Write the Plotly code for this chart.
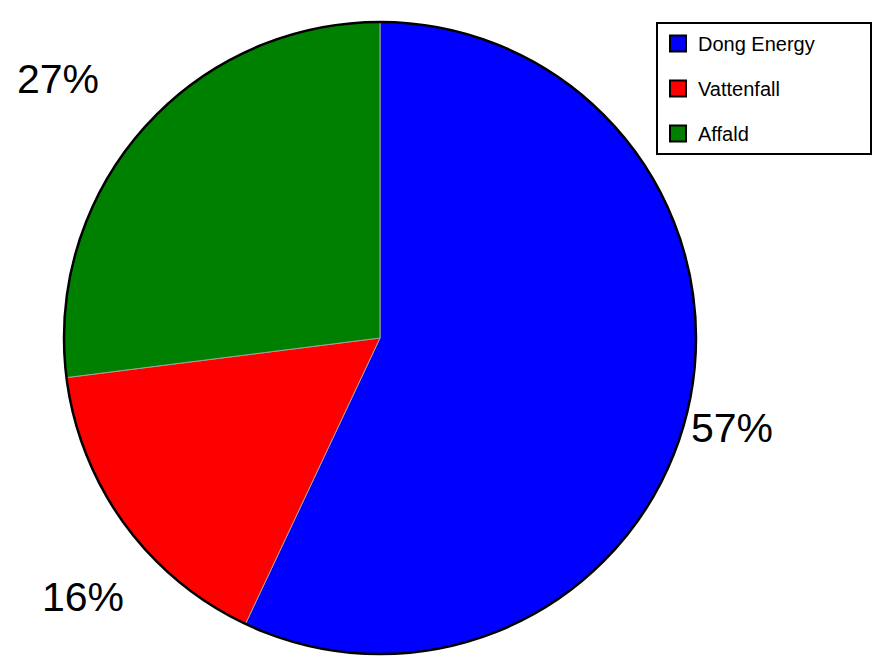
import plotly.graph_objects as go

labels = ["Dong Energy", "Vattenfall", "Affald"]
values = [57, 16, 27]
colors = ["#0000FF", "#FF0000", "#008000"]

W, H = 875, 665
cx, cy, r = 380, 338, 316
dom_x = [(cx - r) / W, (cx + r) / W]
dom_y = [(H - cy - r) / H, (H - cy + r) / H]

fig = go.Figure()
fig.add_trace(go.Pie(
    labels=labels,
    values=values,
    sort=False,
    direction="clockwise",
    rotation=0,
    marker=dict(colors=colors, line=dict(color="#a0a0a0", width=1)),
    textinfo="none",
    domain=dict(x=dom_x, y=dom_y),
    automargin=False,
    showlegend=False,
    hoverinfo="label+percent",
))
# outer black outline of the pie
fig.add_trace(go.Pie(
    values=[1],
    labels=["outline"],
    marker=dict(colors=["rgba(0,0,0,0)"], line=dict(color="black", width=2.5)),
    textinfo="none",
    showlegend=False,
    hoverinfo="skip",
    domain=dict(x=dom_x, y=dom_y),
    sort=False,
))

# legend entries (square swatches with black border)
longest = max(len(l) for l in labels)
for lab, col in zip(labels, colors):
    pad = "\u00a0" * 9 if len(lab) == longest else ""
    fig.add_trace(go.Scatter(
        x=[None], y=[None], mode="markers", name=lab + pad, legendgroup=lab,
        marker=dict(symbol="square", size=20, color=col,
                    line=dict(color="black", width=2)),
        hoverinfo="skip",
    ))

# percentage labels (text derived from the values)
total = sum(values)
label_pos = [(732, 428), (83, 597), (58, 79)]  # label centres in pixels
for v, (px, py) in zip(values, label_pos):
    fig.add_annotation(
        x=px / W, y=1 - py / H, xref="paper", yref="paper",
        text=f"{round(v / total * 100)}%", showarrow=False,
        xanchor="center", yanchor="middle",
        font=dict(size=41, color="black", family="Liberation Sans, Arial"),
    )

fig.update_layout(
    width=W, height=H,
    margin=dict(l=0, r=0, t=0, b=0),
    paper_bgcolor="white",
    plot_bgcolor="white",
    font=dict(family="Liberation Sans, Arial", color="black"),
    xaxis=dict(visible=False),
    yaxis=dict(visible=False),
    legend=dict(
        x=656 / W, y=1 - 22 / H, xanchor="left", yanchor="top",
        bordercolor="black", borderwidth=2, bgcolor="white",
        font=dict(size=20, color="black"),
        itemwidth=30,
        tracegroupgap=16,
        valign="middle",
    ),
)

fig.write_html("out.html")
